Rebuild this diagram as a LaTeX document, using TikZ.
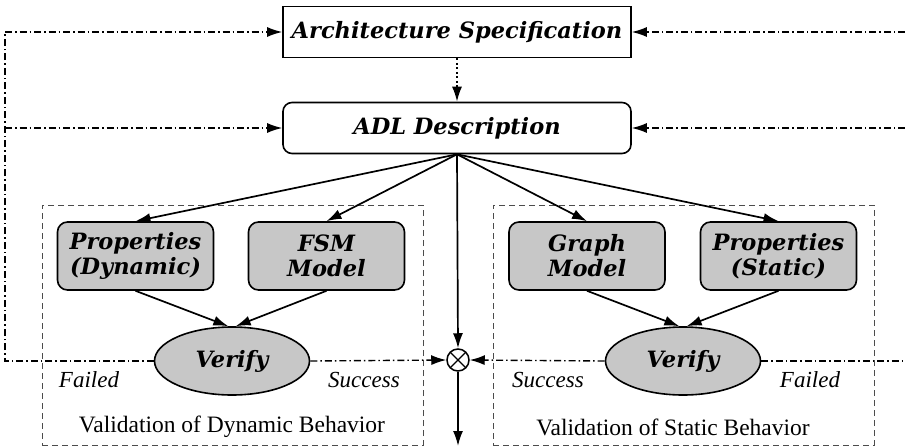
\documentclass[tikz,border=0pt]{standalone}
\usepackage{fontspec}
\setmainfont{Liberation Serif}
\newfontfamily\headfont{DejaVu Serif}
\usetikzlibrary{arrows.meta,shapes.geometric}

\tikzset{
  boldlabel/.style={font=\headfont\fontsize{22.5}{25}\selectfont\bfseries\itshape},
  topbox/.style={draw, line width=1.6pt, minimum width=348pt, minimum height=51pt,
    inner sep=0pt, boldlabel},
  gbox/.style={draw, line width=1.6pt, rounded corners=10pt, fill=black!22,
    minimum width=156pt, minimum height=68pt, inner sep=0pt, boldlabel, align=center},
  vfy/.style={ellipse, draw, line width=1.6pt, fill=black!22, minimum width=155pt,
    minimum height=68pt, inner sep=0pt, boldlabel},
  tip/.style={-{Latex[length=15pt,width=10pt]}},
  conn/.style={line width=1.7pt, tip},
  fb/.style={line width=1.4pt, dash pattern=on 7pt off 3pt on 1.5pt off 3pt},
  fbarrow/.style={fb, tip},
  grp/.style={draw=black!70, line width=0.9pt, dash pattern=on 6pt off 4pt,
    inner sep=0pt},
  outcome/.style={font=\fontsize{23}{23}\selectfont\itshape},
  caption/.style={font=\fontsize{23.5}{24}\selectfont},
}

\begin{document}
\begin{tikzpicture}[x=1pt,y=-1pt]
\useasboundingbox (0,0) rectangle (905,447);

% dashed groups for the two validation flows
\node[grp, minimum width=381pt, minimum height=240pt] (gdyn) at (232.5,325) {};
\node[grp, minimum width=381pt, minimum height=240pt] (gstat) at (683.5,325) {};

% top of the flow
\node[topbox] (arch) at (457,32) {Architecture Specification};
\node[topbox, rounded corners=9pt] (adl) at (457,128) {ADL Description};

% models and properties
\node[gbox] (pdyn) at (135.5,256) {Properties\\(Dynamic)};
\node[gbox] (fsm) at (326.5,256) {FSM\\Model};
\node[gbox] (graph) at (587,256) {Graph\\Model};
\node[gbox] (pstat) at (778.5,256) {Properties\\(Static)};

% verification steps
\node[vfy] (vdyn) at (232,361) {Verify};
\node[vfy] (vstat) at (683,361) {Verify};

% junction of the results
\node[draw, circle, line width=1.5pt, minimum size=22pt, inner sep=0pt,
  path picture={\draw[line width=1.3pt]
    (path picture bounding box.north west) -- (path picture bounding box.south east)
    (path picture bounding box.north east) -- (path picture bounding box.south west);}]
  (join) at (458,360) {};

\coordinate (out) at (458,446);
\coordinate (lt) at (5,32);
\coordinate (lm) at (5,128);
\coordinate (lb) at (5,361);
\coordinate (rt) at (905,32);
\coordinate (rm) at (905,128);
\coordinate (rb) at (905,361);

% main flow
\draw[line width=1.7pt, dash pattern=on 2pt off 2.5pt, tip] (arch) -- (adl);
\draw[conn] (adl.south) -- (pdyn.north);
\draw[conn] (adl.south) -- (fsm.north);
\draw[conn] (adl.south) -- (graph.north);
\draw[conn] (adl.south) -- (pstat.north);
\draw[conn] (adl.south) -- (join.north);
\draw[conn] (join.south) -- (out);
\draw[conn] (pdyn.south) -- (vdyn.96);
\draw[conn] (fsm.south) -- (vdyn.84);
\draw[conn] (graph.south) -- (vstat.96);
\draw[conn] (pstat.south) -- (vstat.84);

% feedback paths
\draw[fb] (vdyn.west) -- (lb) -- (lt);
\draw[fbarrow] (lt) -- (arch.west);
\draw[fbarrow] (lm) -- (adl.west);
\draw[fbarrow] (vdyn.east) -- (join.west);
\draw[fbarrow] (vstat.west) -- (join.east);
\draw[fb] (vstat.east) -- (rb);
\draw[fbarrow] (rt) -- (arch.east);
\draw[fbarrow] (rm) -- (adl.east);

% outcome labels
\node[outcome] (fdyn) at (89,380) {Failed};
\node[outcome] (sdyn) at (364,380) {Success};
\node[outcome] (sstat) at (548,380) {Success};
\node[outcome] (fstat) at (810,380) {Failed};

% group captions
\node[caption] (cdyn) at (232,427) {Validation of Dynamic Behavior};
\node[caption] (cstat) at (673,427) {Validation of Static Behavior};
\end{tikzpicture}
\end{document}
